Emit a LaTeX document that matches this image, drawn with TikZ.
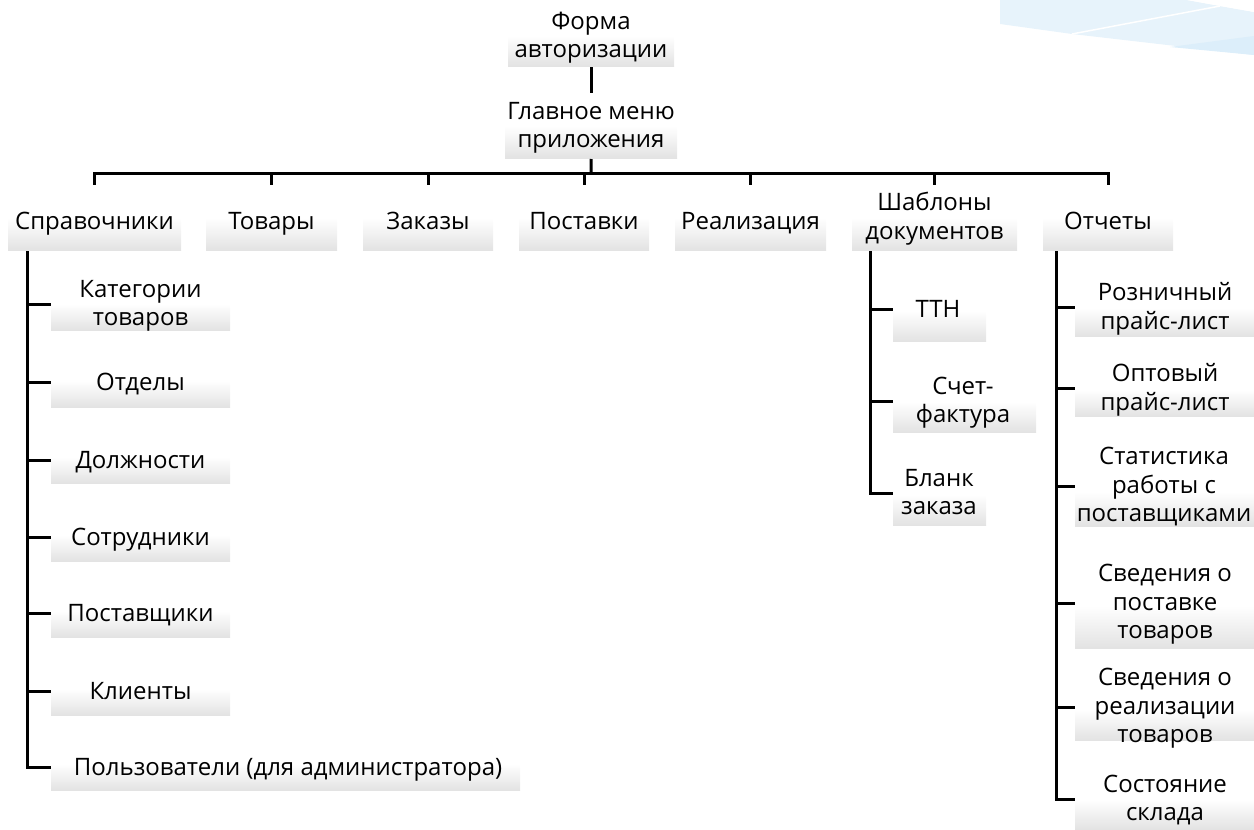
\documentclass[tikz,border=0pt]{standalone}
\usepackage{fontspec}
\setmainfont{Open Sans}
\definecolor{swA}{HTML}{E7F3FB}
\definecolor{swB}{HTML}{DCEEFA}
\definecolor{boxbot}{HTML}{E2E2E2}
\tikzset{
  box/.style={rectangle, draw=none, inner sep=0pt, anchor=south west,
    top color=white, bottom color=boxbot, middle color=white},
  lbl/.style={inner sep=0pt, align=center, font=\fontsize{24}{28.5}\selectfont,
    yshift=-3pt, execute at begin node=\strut, execute at end node=\strut},
  conn/.style={line width=3pt, black}
}
\begin{document}
\begin{tikzpicture}[x=1pt, y=-1pt]
\useasboundingbox (0,0) rectangle (1254,830);
% decorative swoosh
\fill[swA] (1000,0) -- (1187,0) -- (1220,6) -- (1254,12) -- (1254,55) -- (1072,34) -- (1000,24) -- cycle;
\fill[swB] (1170,47) -- (1254,36) -- (1254,55) -- cycle;
\draw[white, line width=1.5pt] (1072,34) -- (1220,6);
\fill[white] (1187,0) -- (1254,0) -- (1254,12) -- (1220,6) -- cycle;

% top
\node[box, minimum width=166pt, minimum height=62pt] (fbox) at (508,67) {};
\node[lbl] (ftext) at (591,36) {Форма\\авторизации};
\node[box, minimum width=172pt, minimum height=66pt] (mbox) at (505,159) {};
\node[lbl] (mtext) at (591,126) {Главное меню\\приложения};

% level 1
\node[box, minimum width=173pt, minimum height=66pt] (b1) at (8,251) {};
\node[lbl] (t1) at (94.5,221) {Справочники};
\node[box, minimum width=131pt, minimum height=66pt] (b2) at (206,251) {};
\node[lbl] (t2) at (271.5,221) {Товары};
\node[box, minimum width=130pt, minimum height=66pt] (b3) at (363,251) {};
\node[lbl] (t3) at (428,221) {Заказы};
\node[box, minimum width=130pt, minimum height=66pt] (b4) at (519,251) {};
\node[lbl] (t4) at (584,221) {Поставки};
\node[box, minimum width=151pt, minimum height=66pt] (b5) at (675,251) {};
\node[lbl] (t5) at (750.5,221) {Реализация};
\node[box, minimum width=165pt, minimum height=66pt] (b6) at (852,251) {};
\node[lbl] (t6) at (934.5,217) {Шаблоны\\документов};
\node[box, minimum width=130pt, minimum height=66pt] (b7) at (1043,251) {};
\node[lbl] (t7) at (1108,221) {Отчеты};

% Справочники children
\node[box, minimum width=179pt, minimum height=54pt] (c1) at (51,331) {};
\node[lbl] (d1) at (140.5,304) {Категории\\товаров};
\node[box, minimum width=179pt, minimum height=54pt] (c2) at (51,408) {};
\node[lbl] (d2) at (140.5,382) {Отделы};
\node[box, minimum width=179pt, minimum height=54pt] (c3) at (51,484) {};
\node[lbl] (d3) at (140.5,460) {Должности};
\node[box, minimum width=179pt, minimum height=54pt] (c4) at (51,562) {};
\node[lbl] (d4) at (140.5,537) {Сотрудники};
\node[box, minimum width=179pt, minimum height=54pt] (c5) at (51,638) {};
\node[lbl] (d5) at (140.5,613) {Поставщики};
\node[box, minimum width=179pt, minimum height=54pt] (c6) at (51,716) {};
\node[lbl] (d6) at (140.5,691) {Клиенты};
\node[box, minimum width=469pt, minimum height=54pt] (c7) at (51,791) {};
\node[lbl] (d7) at (288,767) {Пользователи (для администратора)};

% Шаблоны children
\node[box, minimum width=93pt, minimum height=62pt] (s1) at (893,342) {};
\node[lbl] (e1) at (938,309) {ТТН};
\node[box, minimum width=143pt, minimum height=62pt] (s2) at (893,433) {};
\node[lbl] (e2) at (963,401) {Счет-\\фактура};
\node[box, minimum width=93pt, minimum height=62pt] (s3) at (893,526) {};
\node[lbl] (e3) at (939,493) {Бланк\\заказа};

% Отчеты children
\node[box, minimum width=179pt, minimum height=58pt] (r1) at (1075,337) {};
\node[lbl] (g1) at (1165,307) {Розничный\\прайс-лист};
\node[box, minimum width=179pt, minimum height=54pt] (r2) at (1075,417) {};
\node[lbl] (g2) at (1165,388) {Оптовый\\прайс-лист};
\node[box, minimum width=179pt, minimum height=70pt] (r3) at (1075,527) {};
\node[lbl] (g3) at (1164,486) {Статистика\\работы с\\поставщиками};
\node[box, minimum width=179pt, minimum height=86pt] (r4) at (1075,649) {};
\node[lbl] (g4) at (1165,603) {Сведения о\\поставке\\товаров};
\node[box, minimum width=179pt, minimum height=62pt] (r5) at (1075,741) {};
\node[lbl] (g5) at (1165,707) {Сведения о\\реализации\\товаров};
\node[box, minimum width=179pt, minimum height=60pt] (r6) at (1075,830) {};
\node[lbl] (g6) at (1165,799) {Состояние\\склада};

% connectors
\coordinate (bar) at (591,173);
\draw[conn] (fbox.south) -- (mbox.north);
\draw[conn] (mbox.south) -- (bar);
\draw[conn] (b1.north) |- (bar) -| (b7.north);
\foreach \n in {b2,b3,b4,b5,b6}
  \draw[conn] (\n.north) -- (\n.north |- bar);

\coordinate (sv) at (27,251);
\draw[conn] (sv) |- ([yshift=3pt]c7.west |- d7);
\foreach \n/\t in {c1/d1,c2/d2,c3/d3,c4/d4,c5/d5,c6/d6}
  \draw[conn] ([yshift=3pt]sv |- \t) -- ([yshift=3pt]\n.west |- \t);

\coordinate (shv) at (870,251);
\draw[conn] (shv) |- ([yshift=3pt]s3.west |- e3);
\foreach \n/\t in {s1/e1,s2/e2}
  \draw[conn] ([yshift=3pt]shv |- \t) -- ([yshift=3pt]\n.west |- \t);

\coordinate (ov) at (1056,251);
\draw[conn] (ov) |- ([yshift=3pt]r6.west |- g6);
\foreach \n/\t in {r1/g1,r2/g2,r3/g3,r4/g4,r5/g5}
  \draw[conn] ([yshift=3pt]ov |- \t) -- ([yshift=3pt]\n.west |- \t);
\end{tikzpicture}
\end{document}
